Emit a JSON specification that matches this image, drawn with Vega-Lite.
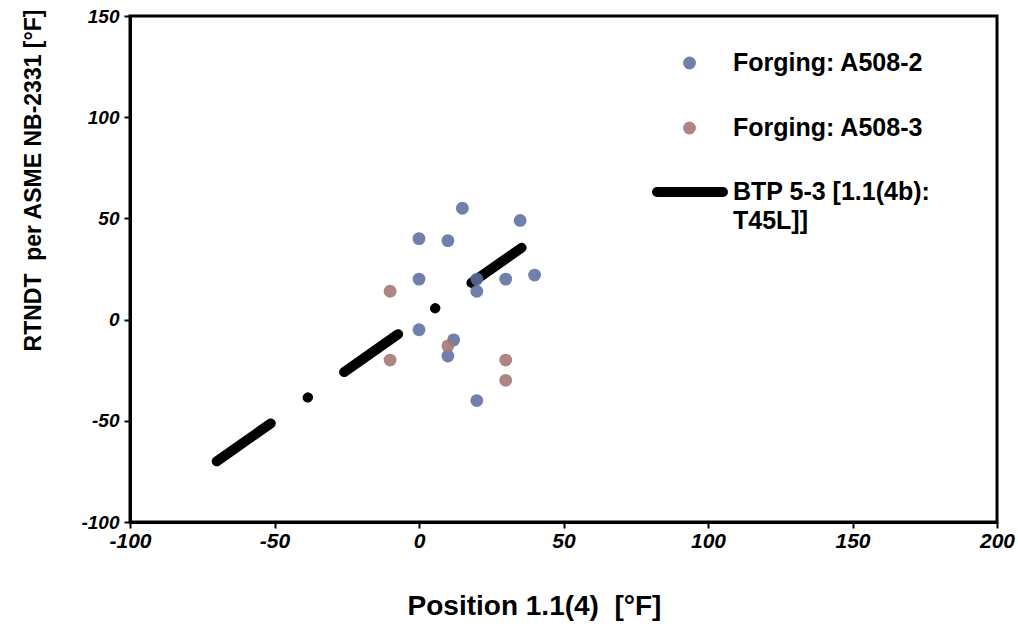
{
  "$schema": "https://vega.github.io/schema/vega-lite/v6.json",
  "autosize": {"type": "none"},
  "padding": {"left": 130, "top": 16, "right": 21, "bottom": 104},
  "width": 867,
  "height": 506,
  "background": "white",
  "datasets": {
    "pts": [
      {"T": 15, "RT": 55, "series": "Forging: A508-2"},
      {"T": 35, "RT": 49, "series": "Forging: A508-2"},
      {"T": 0, "RT": 40, "series": "Forging: A508-2"},
      {"T": 10, "RT": 39, "series": "Forging: A508-2"},
      {"T": 0, "RT": 20, "series": "Forging: A508-2"},
      {"T": 20, "RT": 20, "series": "Forging: A508-2"},
      {"T": 20, "RT": 14, "series": "Forging: A508-2"},
      {"T": 30, "RT": 20, "series": "Forging: A508-2"},
      {"T": 40, "RT": 22, "series": "Forging: A508-2"},
      {"T": 0, "RT": -5, "series": "Forging: A508-2"},
      {"T": 12, "RT": -10, "series": "Forging: A508-2"},
      {"T": 10, "RT": -18, "series": "Forging: A508-2"},
      {"T": 20, "RT": -40, "series": "Forging: A508-2"},
      {"T": -10, "RT": 14, "series": "Forging: A508-3"},
      {"T": -10, "RT": -20, "series": "Forging: A508-3"},
      {"T": 10, "RT": -13, "series": "Forging: A508-3"},
      {"T": 30, "RT": -20, "series": "Forging: A508-3"},
      {"T": 30, "RT": -30, "series": "Forging: A508-3"}
    ],
    "btp": [
      {"T": -70, "RT": -70, "series": "BTP 5-3 [1.1(4b): T45L]]"},
      {"T": 35.5, "RT": 35.5, "series": "BTP 5-3 [1.1(4b): T45L]]"}
    ]
  },
  "layer": [
    {
      "data": {"name": "btp"},
      "mark": {"type": "line", "strokeWidth": 10, "strokeCap": "round", "strokeDash": [66, 45, 0.5, 44]},
      "encoding": {
        "x": {"field": "T", "type": "quantitative"},
        "y": {"field": "RT", "type": "quantitative"},
        "color": {
          "field": "series", "type": "nominal",
          "scale": {"domain": ["BTP 5-3 [1.1(4b): T45L]]"], "range": ["#000000"]},
          "legend": {
            "title": null,
            "orient": "none",
            "legendX": 522,
            "legendY": 161,
            "padding": 0,
            "symbolType": "stroke",
            "symbolSize": 4356,
            "symbolStrokeWidth": 10,
            "symbolDash": [1, 0],
            "clipHeight": 30,
            "labelOffset": 5,
            "labelFontSize": 25,
            "labelFont": "Liberation Sans",
            "labelFontWeight": "bold",
            "labelColor": "black",
            "labelLimit": 400,
            "labelExpr": "['BTP 5-3 [1.1(4b):', 'T45L]]']",
            "encode": {
              "symbols": {"update": {"strokeCap": {"value": "round"}}},
              "labels": {
                "update": {
                  "lineHeight": {"value": 29},
                  "dy": {"value": 0}
                }
              }
            }
          }
        }
      }
    },
    {
      "data": {"name": "pts"},
      "mark": {"type": "point", "filled": true, "size": 165, "opacity": 0.88},
      "encoding": {
        "x": {
          "field": "T", "type": "quantitative",
          "scale": {"domain": [-100, 200], "nice": false, "zero": false},
          "axis": {
            "values": [-100, -50, 0, 50, 100, 150, 200],
            "labelExpr": "datum.value + ''",
            "labelFlush": false,
            "title": "Position 1.1(4)\u00a0 [°F]",
            "titleFontSize": 28,
            "titleX": 404,
            "titleY": 84,
            "titleBaseline": "middle",
            "titleAlign": "center",
            "labelFontSize": 21,
            "labelPadding": 2
          }
        },
        "y": {
          "field": "RT", "type": "quantitative",
          "scale": {"domain": [-100, 150], "nice": false, "zero": false},
          "axis": {
            "values": [-100, -50, 0, 50, 100, 150],
            "labelExpr": "datum.value + ''",
            "labelFlush": false,
            "title": "RTNDT\u00a0 per ASME NB-2331 [°F]",
            "titleFontSize": 23,
            "titleX": -97,
            "titleY": 164,
            "titleAngle": -90,
            "titleBaseline": "middle",
            "titleAlign": "center",
            "labelFontSize": 19,
            "labelPadding": 5
          }
        },
        "color": {
          "field": "series", "type": "nominal",
          "scale": {
            "domain": ["Forging: A508-2", "Forging: A508-3"],
            "range": ["#5b6f9d", "#a27571"]
          },
          "legend": {
            "title": null,
            "orient": "none",
            "legendX": 547,
            "legendY": 32,
            "padding": 0,
            "symbolType": "circle",
            "symbolSize": 165,
            "clipHeight": 30,
            "rowPadding": 35,
            "labelOffset": 31,
            "labelFontSize": 25,
            "labelFont": "Liberation Sans",
            "labelFontWeight": "bold",
            "labelColor": "black",
            "labelLimit": 400
          }
        }
      }
    }
  ],
  "resolve": {"scale": {"color": "independent"}, "legend": {"color": "independent"}},
  "config": {
    "view": {"stroke": "black", "strokeWidth": 3},
    "axis": {
      "grid": false,
      "domainColor": "black",
      "domainWidth": 3,
      "tickColor": "black",
      "tickWidth": 2,
      "tickSize": 6,
      "labelFont": "Liberation Sans",
      "labelFontWeight": "bold",
      "labelFontStyle": "italic",
      "labelColor": "black",
      "titleFont": "Liberation Sans",
      "titleFontWeight": "bold",
      "titleColor": "black"
    }
  }
}
